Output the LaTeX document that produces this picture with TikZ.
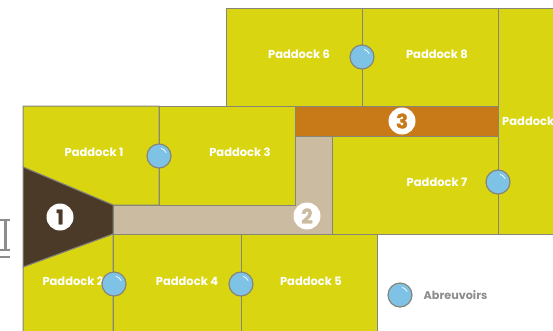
\documentclass[tikz,border=0pt]{standalone}
\usepackage{fontspec}
\setmainfont{Poppins}
\definecolor{pre}{HTML}{D9D511}
\definecolor{couloir}{HTML}{CBBBA0}
\definecolor{orange3}{HTML}{C97A18}
\definecolor{brun}{HTML}{4C3A28}
\definecolor{eau}{HTML}{7EC3E6}
\definecolor{trait}{HTML}{85857A}
\tikzset{
  zone/.style={draw=trait, line width=1pt},
  nom/.style={text=white, font=\fontsize{11.5}{12}\selectfont\bfseries, inner sep=0pt},
  badge/.style={circle, fill=white, minimum size=27pt, inner sep=0pt, font=\fontsize{20}{20}\selectfont\bfseries\addfontfeature{FakeBold=1.5}},
  abreuvoir/.style={circle, draw=trait, fill=eau, line width=1.2pt, minimum size=24pt, inner sep=0pt}
}
\newcommand{\reflet}[1]{\draw[white, line width=.7pt] (#1)+(2,-7.7) arc[start angle=-75, end angle=-25, radius=8];}
\begin{document}
\begin{tikzpicture}[x=1pt,y=-1pt]
\useasboundingbox (0,0) rectangle (553,330);
% paddocks
\fill[pre, zone] (226,8) rectangle (362,106);
\fill[pre, zone] (362,8) rectangle (498,106);
\fill[pre, zone] (498,8) -- (560,8) -- (560,234) -- (498,234) -- cycle;
\fill[pre, zone] (332,136) rectangle (498,234);
\fill[pre, zone] (159,106) rectangle (295,205);
\fill[pre, zone] (23,106) -- (159,106) -- (159,205) -- (113,205) -- (23,167) -- cycle;
\fill[pre, zone] (23,267) -- (113,234) -- (113,340) -- (23,340) -- cycle;
\fill[pre, zone] (113,234) rectangle (241,340);
\fill[pre, zone] (241,234) rectangle (377,340);
% couloirs
\fill[orange3, zone] (295,106) rectangle (498,136);
\fill[couloir, zone] (295,136) -- (332,136) -- (332,234) -- (113,234) -- (113,205) -- (295,205) -- cycle;
\fill[brun, zone] (23,167) -- (113,205) -- (113,234) -- (23,267) -- cycle;
% batiment
\draw[gray!90, line width=2pt] (0,220) -- (10,220);
\draw[gray!90, line width=2.4pt] (5.5,220) -- (5.5,250);
\draw[gray!90, line width=2pt] (0,250) -- (10,250);
\draw[gray!90, line width=2pt] (0,257) -- (10,257);
% noms
\node[nom] (p1) at (94,152){Paddock 1};
\node[nom] (p3) at (240,152){Paddock 3};
\node[nom] (p6) at (299,54){Paddock 6};
\node[nom] (p8) at (437,54){Paddock 8};
\node[nom] (p7) at (437,182){Paddock 7};
\node[nom, anchor=west] (p9) at (502,121){Paddock};
\node[nom] (p2) at (73,281){Paddock 2};
\node[nom] (p4) at (187,281){Paddock 4};
\node[nom] (p5) at (311,281){Paddock 5};
% abreuvoirs
\node[abreuvoir] (a1) at (159,156){};
\node[abreuvoir] (a2) at (362,57){};
\node[abreuvoir] (a3) at (498,182){};
\node[abreuvoir] (a4) at (114,284){};
\node[abreuvoir] (a5) at (241,284){};
\node[abreuvoir] (a6) at (400,295){};
\reflet{a1} \reflet{a2} \reflet{a3} \reflet{a4} \reflet{a5} \reflet{a6}
% numeros
\node[badge, text=brun] (n1) at (60,217){1};
\node[badge, text=couloir] (n2) at (307,216){2};
\node[badge, text=orange3] (n3) at (402,121){3};
\node[text=gray!90, font=\fontsize{11.2}{12}\selectfont\bfseries, inner sep=0pt] (leg) at (455.5,295){Abreuvoirs};
\end{tikzpicture}
\end{document}
